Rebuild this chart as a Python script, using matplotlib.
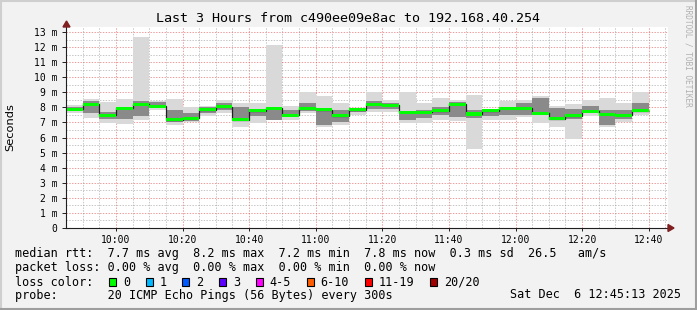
import numpy as np
import matplotlib
matplotlib.use("Agg")
import matplotlib.pyplot as plt
from matplotlib.patches import Rectangle, Polygon

# 35 five-minute steps starting 09:45 (x in minutes after 09:45)
step_start = np.arange(0, 175, 5)

# median rtt per step (ms)
median = [7.89, 8.22, 7.49, 7.94, 8.22, 8.09, 7.18, 7.27, 7.83, 8.05,
          7.18, 7.76, 7.94, 7.49, 7.94, 7.83, 7.43, 7.83, 8.22, 8.14,
          7.67, 7.67, 7.78, 8.22, 7.56, 7.78, 7.94, 7.94, 7.60, 7.25,
          7.43, 7.74, 7.54, 7.49, 7.78]
# full smoke range (min / max ping)
smoke_lo = [7.60, 7.27, 6.94, 6.90, 7.16, 7.80, 6.83, 7.00, 7.40, 7.60,
            6.72, 6.94, 7.16, 7.16, 7.60, 6.72, 6.83, 7.50, 7.71, 7.70,
            6.94, 6.96, 7.16, 7.12, 5.22, 7.16, 7.16, 7.34, 6.94, 6.72,
            5.90, 7.43, 6.72, 7.05, 7.49]
smoke_hi = [8.14, 8.53, 8.37, 8.55, 12.69, 8.43, 8.53, 8.00, 8.10, 8.50,
            8.31, 8.27, 12.14, 8.10, 9.04, 8.75, 8.31, 7.90, 8.99, 8.50,
            8.99, 8.27, 8.60, 8.50, 8.82, 7.90, 8.40, 8.50, 8.75, 8.10,
            8.20, 8.50, 8.64, 8.31, 8.99]
# dense middle of the smoke
core_lo = [7.75, 7.60, 7.20, 7.20, 7.40, 7.95, 7.05, 7.10, 7.60, 7.80,
           7.16, 7.40, 7.16, 7.35, 7.75, 6.83, 7.00, 7.70, 7.90, 7.90,
           7.16, 7.30, 7.50, 7.38, 7.30, 7.40, 7.50, 7.50, 7.50, 7.16,
           7.20, 7.60, 6.83, 7.20, 7.70]
core_hi = [8.05, 8.40, 7.70, 8.00, 8.40, 8.35, 7.83, 7.60, 8.00, 8.30,
           8.05, 7.90, 8.05, 7.80, 8.30, 7.83, 7.80, 7.90, 8.40, 8.30,
           7.72, 7.80, 8.00, 8.38, 7.80, 7.85, 8.00, 8.30, 8.60, 7.94,
           7.90, 8.10, 7.83, 7.80, 8.30]

tick_pos = [15, 35, 55, 75, 95, 115, 135, 155, 175]
tick_lab = ["10:00", "10:20", "10:40", "11:00", "11:20", "11:40", "12:00", "12:20", "12:40"]

loss_labels = ["0", "1", "2", "3", "4-5", "6-10", "11-19", "20/20"]
loss_colors = ["#00ff00", "#00b8ff", "#0059ff", "#5e00ff", "#ff00ff", "#ff5e00", "#ff0000", "#a10000"]
loss_box_x = [109, 145.7, 182.3, 219, 255.7, 306.7, 365, 430]

W, H = 697, 310
mono = "DejaVu Sans Mono"
fig = plt.figure(figsize=(W / 100, H / 100), dpi=100, facecolor="#f2f2f2")

def fx(px):
    return px / W

def fy(py):
    return 1 - py / H

ax = fig.add_axes([fx(66), fy(228), fx(668) - fx(66), fy(27) - fy(228)])
ax.set_facecolor("white")

median = np.array(median)
lo, hi = np.array(smoke_lo), np.array(smoke_hi)
clo, chi = np.array(core_lo), np.array(core_hi)

ax.bar(step_start, hi - lo, bottom=lo, width=5, align="edge", color="#d9d9d9", lw=0, zorder=2)
ax.bar(step_start, chi - clo, bottom=clo, width=5, align="edge", color="#8a8a8a", lw=0, zorder=3)
edges = np.append(step_start, 175)
ax.stairs(median, edges, baseline=None, color="#202020", lw=0.9, zorder=4)
ax.bar(step_start, 0.2, bottom=median - 0.1, width=5, align="edge", color="#00ff00", lw=0, zorder=5)

ax.set_xlim(0, 180.8)
ax.set_ylim(0, 13.33)

# grid like rrdtool: minor grey dotted, major red dotted
for x in np.arange(5, 181, 5):
    major = x in tick_pos
    ax.axvline(x, color="#de4f4f" if major else "#8f8f8f", alpha=0.55 if major else 0.5,
               lw=0.72, ls=(0, (1.4, 1.4)), zorder=1)
for y in np.arange(0.5, 13.4, 0.5):
    major = float(y).is_integer()
    ax.axhline(y, color="#de4f4f" if major else "#8f8f8f", alpha=0.55 if major else 0.5,
               lw=0.72, ls=(0, (1.4, 1.4)), zorder=1)

for s in ["top", "right"]:
    ax.spines[s].set_visible(False)
for s in ["left", "bottom"]:
    ax.spines[s].set_color("#1f1f1f")
    ax.spines[s].set_linewidth(0.8)
    ax.spines[s].set_zorder(6)

ax.set_xticks(tick_pos)
ax.set_xticklabels(tick_lab, family=mono, fontsize=7)
ax.set_yticks(range(14))
ax.set_yticklabels(["0"] + [f"{v} m" for v in range(1, 14)], family=mono, fontsize=7)
ax.tick_params(axis="y", length=3, width=0.7, color="#1f1f1f", pad=3)
ax.tick_params(axis="x", length=2, width=0.7, color="#1f1f1f", pad=3)

# axis arrows
fig.patches.append(Polygon([[fx(63), fy(27)], [fx(70), fy(27)], [fx(66.5), fy(21)]],
                           closed=True, transform=fig.transFigure, color="#801f1f"))
fig.patches.append(Polygon([[fx(668), fy(224.5)], [fx(668), fy(231.5)], [fx(674), fy(228)]],
                           closed=True, transform=fig.transFigure, color="#801f1f"))

fig.text(0.5, fy(19), "Last 3 Hours from c490ee09e8ac to 192.168.40.254",
         family=mono, fontsize=9.6, ha="center", va="center")
fig.text(fx(10), fy(127), "Seconds", rotation=90, fontsize=8.2, ha="center", va="center")
fig.text(fx(688), fy(5), "RRDTOOL / TOBI OETIKER", rotation=270, family=mono,
         fontsize=5.6, color="#b0b0b0", ha="center", va="top")

leg = 8.5
fig.text(fx(15), fy(254), "median rtt:  7.7 ms avg  8.2 ms max  7.2 ms min  7.8 ms now  0.3 ms sd  26.5   am/s",
         family=mono, fontsize=leg, va="center")
fig.text(fx(15), fy(268), "packet loss: 0.00 % avg  0.00 % max  0.00 % min  0.00 % now",
         family=mono, fontsize=leg, va="center")
fig.text(fx(15), fy(282), "loss color:", family=mono, fontsize=leg, va="center")
for bx, lab, col in zip(loss_box_x, loss_labels, loss_colors):
    fig.patches.append(Rectangle((fx(bx), fy(285.5)), 7 / W, 7.5 / H, transform=fig.transFigure,
                                 facecolor=col, edgecolor="black", lw=0.8))
    fig.text(fx(bx + 14), fy(282), lab, family=mono, fontsize=leg, va="center")
fig.text(fx(15), fy(295), "probe:       20 ICMP Echo Pings (56 Bytes) every 300s",
         family=mono, fontsize=leg, va="center")
fig.text(fx(681), fy(295), "Sat Dec  6 12:45:13 2025", family=mono, fontsize=leg, va="center", ha="right")

# 3d-ish frame
fig.add_artist(plt.Line2D([0, 1], [fy(0.5), fy(0.5)], transform=fig.transFigure, color="#cfcfcf", lw=1.5))
fig.add_artist(plt.Line2D([fx(0.5), fx(0.5)], [0, 1], transform=fig.transFigure, color="#cfcfcf", lw=1.5))
fig.add_artist(plt.Line2D([0, 1], [fy(309), fy(309)], transform=fig.transFigure, color="#9e9e9e", lw=1.5))
fig.add_artist(plt.Line2D([fx(696), fx(696)], [0, 1], transform=fig.transFigure, color="#9e9e9e", lw=1.5))

fig.savefig("out.png", dpi=100, facecolor=fig.get_facecolor())
